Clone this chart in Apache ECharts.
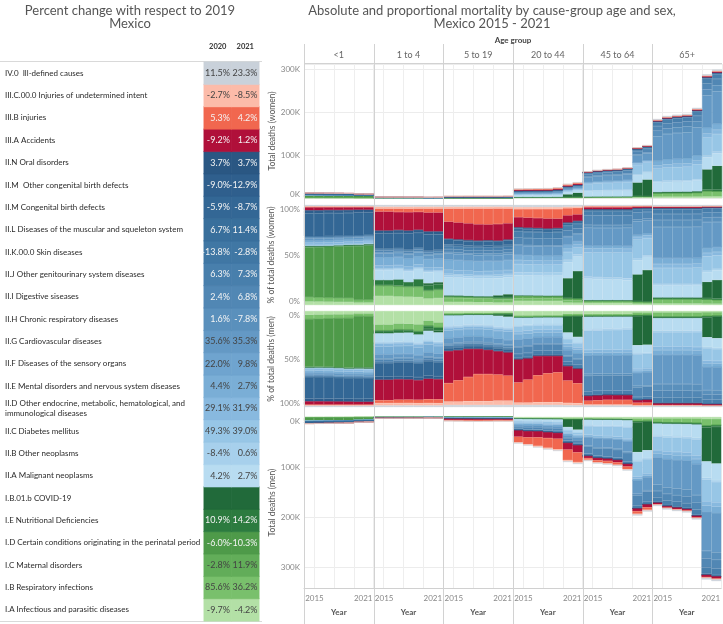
<!DOCTYPE html>
<html><head><meta charset="utf-8">
<script src="https://cdn.jsdelivr.net/npm/echarts@6/dist/echarts.min.js"></script>
<style>html,body{margin:0;padding:0;background:#fff}#c{width:723px;height:624px}</style>
</head><body><div id="c"></div>
<script>
// ---------------- DATA ----------------
const YEARS = ['2015','2016','2017','2018','2019','2020','2021'];
const AGE_GROUPS = ['<1','1 to 4','5 to 19','20 to 44','45 to 64','65+'];
// stack order (bottom of women stack / top of men stack first)
const CAUSES = [
 'I.A Infectious and parasitic diseases',
 'I.B Respiratory infections',
 'I.C Maternal disorders',
 'I.D Certain conditions originating in the perinatal period',
 'I.E Nutritional Deficiencies',
 'I.B.01.b COVID-19',
 'II.A Malignant neoplasms',
 'II.B Other neoplasms',
 'II.C Diabetes mellitus',
 'II.D Other endocrine, metabolic, hematological, and\nimmunological diseases',
 'II.E Mental disorders and nervous system diseases',
 'II.F Diseases of the sensory organs',
 'II.G Cardiovascular diseases',
 'II.H Chronic respiratory diseases',
 'II.I Digestive siseases',
 'II.J Other genitourinary system diseases',
 'II.K.00.0 Skin diseases',
 'II.L Diseases of the muscular and squeleton system',
 'II.M Congenital birth defects',
 'II.M  Other congenital birth defects',
 'II.N Oral disorders',
 'III.A Accidents',
 'III.B injuries',
 'III.C.00.0 Injuries of undetermined intent',
 'IV.0  Ill-defined causes'
];
const CHANGE_2020 = [-9.7, 85.6, -2.8, -6.0, 10.9, null, 4.2, -8.4, 49.3, 29.1, 4.4, 22.0, 35.6, 1.6, 2.4, 6.3, -13.8, 6.7, -5.9, -9.0, 3.7, -9.2, 5.3, -2.7, 11.5];
const CHANGE_2021 = [-4.2, 36.2, 11.9, -10.3, 14.2, null, 2.7, 0.6, 39.0, 31.9, 2.7, 9.8, 35.3, -7.8, 6.8, 7.3, -2.8, 11.4, -8.7, -12.9, 3.7, 1.2, 4.2, -8.5, 23.3];

// total deaths (thousands) per age group, 2015..2021
const womenTotals = [
 [12.0, 11.8, 11.5, 11.3, 11.0, 9.6, 9.3],
 [2.3, 2.2, 2.2, 2.1, 2.1, 1.7, 1.8],
 [4.2, 4.2, 4.3, 4.3, 4.3, 4.2, 4.5],
 [21.5, 22.0, 22.3, 22.6, 24.5, 32.5, 36.5],
 [62, 65, 67, 68, 71, 118, 123],
 [184, 191, 194, 196, 210, 288, 299]
];
const menTotals = [
 [13.5, 13.2, 12.9, 12.6, 12.2, 10.6, 10.0],
 [2.7, 2.6, 2.6, 2.5, 2.5, 2.0, 2.1],
 [8.0, 8.3, 8.8, 9.0, 8.8, 8.5, 8.6],
 [53, 57, 61, 65, 68, 90, 94],
 [88, 93, 95, 98, 107, 197, 189],
 [178, 185, 188, 191, 205, 325, 328]
];

// relative share of each cause (rows in CAUSES order), per year 2015..2021
const womenShare_lt1 = [
 [3.5,3.4,3.2,3.0,3.0,2.4,2.4],[4.5,4.3,4.2,4.0,4.0,2.8,3.0],[0,0,0,0,0,0,0],[50,50.5,51,51.5,52,54,54.5],[1.2,1.1,1.0,1.0,1.2,1.0,0.9],[0,0,0,0,0,0.5,0.6],
 [0.6,0.6,0.6,0.6,0.6,0.6,0.6],[0.4,0.4,0.4,0.4,0.4,0.4,0.4],[0.1,0.1,0.1,0.1,0.1,0.1,0.1],[2.0,2.0,2.0,2.0,1.9,1.9,1.9],[2.2,2.2,2.1,2.1,2.0,2.0,2.0],[0.1,0.1,0.1,0.1,0.1,0.1,0.1],
 [2.0,2.0,2.0,1.9,1.9,1.9,1.9],[0.4,0.4,0.4,0.4,0.4,0.4,0.4],[1.0,1.0,1.0,1.0,1.0,1.0,1.0],[0.6,0.6,0.6,0.6,0.6,0.6,0.6],[0.2,0.2,0.2,0.2,0.2,0.2,0.2],[0.2,0.2,0.2,0.2,0.2,0.2,0.2],
 [23,23,23,22.5,22.5,22.5,22],[3,3,3,3,3,3,3],[0.1,0.1,0.1,0.1,0.1,0.1,0.1],
 [3.0,3.0,2.8,2.8,2.7,2.5,2.5],[0.6,0.6,0.6,0.6,0.6,0.6,0.6],[0.4,0.4,0.4,0.4,0.4,0.4,0.4],[1.2,1.2,1.2,1.2,1.2,1.2,1.2]
];
const menShare_lt1 = [
 [4,3.8,3.6,3.5,3.4,2.6,2.6],[4.5,4.4,4.3,4.2,4.2,2.8,3.0],[0,0,0,0,0,0,0],[50,50,50.5,51,52,53.5,53],[1.1,1.0,1.0,1.0,1.0,0.9,0.9],[0,0,0,0,0,0.5,0.6],
 [0.6,0.6,0.6,0.6,0.6,0.6,0.6],[0.4,0.4,0.4,0.4,0.4,0.4,0.4],[0.1,0.1,0.1,0.1,0.1,0.1,0.1],[2,2,2,2,2,2,2],[2.2,2.2,2.2,2.2,2.2,2.2,2.2],[0.1,0.1,0.1,0.1,0.1,0.1,0.1],
 [2,2,2,2,2,2,2],[0.4,0.4,0.4,0.4,0.4,0.4,0.4],[1,1,1,1,1,1,1],[0.7,0.7,0.7,0.7,0.7,0.7,0.7],[0.2,0.2,0.2,0.2,0.2,0.2,0.2],[0.2,0.2,0.2,0.2,0.2,0.2,0.2],
 [22,22,22,21.5,21.5,21.5,21],[3,3,3,3,3,3,3],[0.1,0.1,0.1,0.1,0.1,0.1,0.1],
 [3.5,3.5,3.4,3.3,3.2,3.0,3.0],[0.6,0.6,0.6,0.6,0.6,0.6,0.6],[0.5,0.5,0.5,0.5,0.5,0.5,0.5],[1.3,1.3,1.3,1.3,1.3,1.3,1.3]
];
const womenShare_1to4 = [
 [9,9,8.5,8,8,6.5,7],[10,10,10,9.5,10,7.5,8],[0,0,0,0,0,0,0],[1,1,1,1,1,1,1],[5,5,6,4,7,5,5],[0,0,0,0,0,2,2],
 [10,10,10,10.5,10.5,11,10.5],[1,1,1,1,1,1,1],[0.5,0.5,0.5,0.5,0.5,0.5,0.5],[3,3,3,3,3,3,3],[8,8,8,8,8,8.5,8.5],[0.2,0.2,0.2,0.2,0.2,0.2,0.2],
 [4,4,4,4,4,4,4],[1,1,1,1,1,1,1],[2,2,2,2,2,2,2],[1,1,1,1,1,1,1],[0.3,0.3,0.3,0.3,0.3,0.3,0.3],[0.5,0.5,0.5,0.5,0.5,0.5,0.5],
 [15,15,15,15.5,15,16,15.5],[3,3,3,3,3,3,3],[0.2,0.2,0.2,0.2,0.2,0.2,0.2],
 [19,19,18,18,18,19,19],[3,3,3.5,3.5,3.5,4,4],[2,2,2,2,2,2,2],[1.5,1.5,1.5,1.5,1.5,1.5,1.5]
];
const menShare_1to4 = [
 [14,14,13,13,14,10,12],[6,6,6,6,7,5,5],[0,0,0,0,0,0,0],[0.5,0.5,0.5,0.5,0.5,0.5,0.5],[2.5,2.5,3,2.5,3,3,3],[0,0,0,0,0,2,2],
 [9,9,9,9,9,9.5,9.5],[1,1,1,1,1,1,1],[0.5,0.5,0.5,0.5,0.5,0.5,0.5],[3,3,3,3,3,3,3],[8,8,8,8,8,8,8],[0.2,0.2,0.2,0.2,0.2,0.2,0.2],
 [4,4,4,4,4,4,4],[1,1,1,1,1,1,1],[2,2,2,2,2,2,2],[1,1,1,1,1,1,1],[0.3,0.3,0.3,0.3,0.3,0.3,0.3],[0.5,0.5,0.5,0.5,0.5,0.5,0.5],
 [14,14,14,14,14,15,14.5],[3,3,3,3,3,3,3],[0.2,0.2,0.2,0.2,0.2,0.2,0.2],
 [21,21,21,20.5,20.5,21,21],[3,3,3.5,3.5,3.5,4,4],[2.5,2.5,2.5,2.5,2.5,2.5,2.5],[1.5,1.5,1.5,1.5,1.5,1.5,1.5]
];
const womenShare_5to19 = [
 [3,3,3,2.8,2.8,2.5,2.5],[4,4,3.8,3.6,3.5,3,3],[1.5,1.5,1.4,1.4,1.4,1.5,1.5],[0,0,0,0,0,0,0],[1,1,1,1,1,1,1],[0,0,0,0,0,2,3],
 [18,18,18,18,18,17.5,17],[2,2,2,2,2,2,2],[1.5,1.5,1.5,1.5,1.5,1.5,1.5],[4,4,4,4,4,4,4],[10,10,10,10,10,10,10],[0.2,0.2,0.2,0.2,0.2,0.2,0.2],
 [6,6,6,6,6,6,6],[1.5,1.5,1.5,1.5,1.5,1.5,1.5],[3,3,3,3,3,3,3],[3,3,3,3,3,3,3],[0.3,0.3,0.3,0.3,0.3,0.3,0.3],[1.5,1.5,1.5,1.5,1.5,1.5,1.5],
 [4.5,4.5,4.5,4.5,4.5,4.5,4.5],[1,1,1,1,1,1,1],[0.1,0.1,0.1,0.1,0.1,0.1,0.1],
 [17,17,17,16.5,16,17,16.5],[13,14,15,16,16,16,15],[2,2,2,2,2,2,2],[1.5,1.5,1.5,1.5,1.5,1.5,1.5]
];
const menShare_5to19 = [
 [2,2,1.8,1.8,1.8,1.6,1.6],[2,2,1.8,1.8,1.8,1.5,1.5],[0,0,0,0,0,0,0],[0,0,0,0,0,0,0],[0.5,0.5,0.5,0.5,0.5,0.5,0.5],[0,0,0,0,0,1.5,2.5],
 [11,10.5,10,10,10.5,11,11],[1,1,1,1,1,1,1],[1,1,1,1,1,1,1],[2.5,2.5,2.5,2.5,2.5,2.5,2.5],[8,8,7.5,7.5,8,8,8.5],[0.1,0.1,0.1,0.1,0.1,0.1,0.1],
 [5,5,5,5,5,5,5],[1,1,1,1,1,1,1],[1.5,1.5,1.5,1.5,1.5,1.5,1.5],[1.5,1.5,1.5,1.5,1.5,1.5,1.5],[0.2,0.2,0.2,0.2,0.2,0.2,0.2],[0.7,0.7,0.7,0.7,0.7,0.7,0.7],
 [2.5,2.5,2.5,2.5,2.5,2.5,2.5],[0.5,0.5,0.5,0.5,0.5,0.5,0.5],[0.1,0.1,0.1,0.1,0.1,0.1,0.1],
 [33,31,29,26,25,24,24],[19,22,25,28,28,27,26],[3.5,3.5,4,4,4,4.5,4.5],[2,2,2,2,2,2,2]
];
const womenShare_20to44 = [
 [4,4,4,4,4,3,3],[2.5,2.5,2.5,2.5,2.5,3,3],[2.5,2.5,2.4,2.3,2.3,2.5,3],[0,0,0,0,0,0,0],[0.5,0.5,0.5,0.5,0.5,0.5,0.5],[0,0,0,0,0,25,38],
 [20,20,20,20,20,20,20],[3,3,3,3,3,3,3],[8,8,8,8,8,10,9.5],[4,4,4,4,4,4,4],[5,5,5,5,5,5,5],[0.1,0.1,0.1,0.1,0.1,0.1,0.1],
 [9,9,9,9,9,10,10],[1,1,1,1,1,1,1],[7,7,7,7,7,7,7],[6,6,6,6,6,6,6],[0.5,0.5,0.5,0.5,0.5,0.5,0.5],[2.5,2.5,2.5,2.5,2.5,2.5,2.5],
 [1,1,1,1,1,1,1],[0.3,0.3,0.3,0.3,0.3,0.3,0.3],[0.1,0.1,0.1,0.1,0.1,0.1,0.1],
 [10,10,10,10,9.5,9,9],[8,8.5,9,9.5,9.5,9,9],[2,2,2,2,2,2,2],[2,2,2,2,2,2,2]
];
const menShare_20to44 = [
 [4.5,4.5,4.3,4.2,4.2,3.5,3.5],[2,2,2,2,2,3,3],[0,0,0,0,0,0,0],[0,0,0,0,0,0,0],[0.5,0.5,0.5,0.5,0.5,0.5,0.5],[0,0,0,0,0,20,27],
 [8,7.5,7,7,7,7,7],[1,1,1,1,1,1,1],[5,5,4.5,4.5,4.5,6,5.5],[3,3,3,3,3,3,3],[6,5.5,5,5,5,5,5],[0,0,0,0,0,0,0],
 [7,7,6.5,6.5,6.5,7,7],[0.7,0.7,0.7,0.7,0.7,0.7,0.7],[7,7,6.5,6.5,6.5,6.5,6.5],[4,4,4,4,4,4,4],[0.3,0.3,0.3,0.3,0.3,0.3,0.3],[0.8,0.8,0.8,0.8,0.8,0.8,0.8],
 [0.5,0.5,0.5,0.5,0.5,0.5,0.5],[0.2,0.2,0.2,0.2,0.2,0.2,0.2],[0.05,0.05,0.05,0.05,0.05,0.05,0.05],
 [24,22,20,18,17,18,19],[21,24,28,30,31,28,26],[2.5,2.5,3,3,3,3,3],[2,2,2,2,2,2,2]
];
const womenShare_45to64 = [
 [2,2,2,2,2,1.6,1.6],[2,2,2,2,2,3,2.8],[0.1,0.1,0.1,0.1,0.1,0.1,0.1],[0,0,0,0,0,0,0],[0.8,0.8,0.8,0.8,0.8,0.8,0.8],[0,0,0,0,0,38,47],
 [22,21.5,21,21,20.5,20,19.5],[2,2,2,2,2,2,2],[25,25,25.5,25.5,26,27,26],[4,4,4,4,4,4,4],[3,3,3,3,3,3,3],[0,0,0,0,0,0,0],
 [18,18,18,18,18.5,19,19],[3,3,3,3,3,3,3],[10,10,10,10,10,10,10],[4,4,4,4,4,4,4],[0.3,0.3,0.3,0.3,0.3,0.3,0.3],[1.5,1.5,1.5,1.5,1.5,1.5,1.5],
 [0.2,0.2,0.2,0.2,0.2,0.2,0.2],[0.1,0.1,0.1,0.1,0.1,0.1,0.1],[0,0,0,0,0,0,0],
 [2,2,2,2,2,2,2],[1,1,1,1,1,1,1],[0.3,0.3,0.3,0.3,0.3,0.3,0.3],[1,1,1,1,1,1,1]
];
const menShare_45to64 = [
 [3,3,3,3,3,2.2,2.3],[2,2,2,2,2,4.5,4],[0,0,0,0,0,0,0],[0,0,0,0,0,0,0],[1,1,1,1,1,1,1],[0,0,0,0,0,45,44],
 [13,13,12.5,12.5,12,12,12],[1.5,1.5,1.5,1.5,1.5,1.5,1.5],[20,20,20.5,21,21,23,22],[3,3,3,3,3,3,3],[3,3,3,3,3,3,3],[0,0,0,0,0,0,0],
 [19,19,19,19,19.5,20,20],[2,2,2,2,2,2,2],[16,16,16,16,16,15,15],[4,4,4,4,4,4,4],[0.3,0.3,0.3,0.3,0.3,0.3,0.3],[0.5,0.5,0.5,0.5,0.5,0.5,0.5],
 [0.1,0.1,0.1,0.1,0.1,0.1,0.1],[0,0,0,0,0,0,0],[0,0,0,0,0,0,0],
 [5,5,5,5,5,4,4.5],[4,4.5,5,5,5,4,4],[1,1,1,1,1,1,1],[1.5,1.5,1.5,1.5,1.5,1.5,1.5]
];
const womenShare_65plus = [
 [1.5,1.5,1.5,1.5,1.5,1.5,1.5],[4.5,4.5,4.5,4.5,4.5,5.5,5],[0,0,0,0,0,0,0],[0,0,0,0,0,0,0],[1.5,1.5,1.5,1.5,1.5,1.5,1.5],[0,0,0,0,0,20,23],
 [12,12,12,12,12,12,12],[1.5,1.5,1.5,1.5,1.5,1.5,1.5],[16,16,16,16,16.5,18,17],[4,4,4,4,4,4,4],[6,6,6,6,6,6,6],[0,0,0,0,0,0,0],
 [31,31,31,31,31,32,31],[7,7,7,7,7,6,6],[6,6,6,6,6,6,6],[4.5,4.5,4.5,4.5,4.5,4.5,4.5],[0.5,0.5,0.5,0.5,0.5,0.5,0.5],[1,1,1,1,1,1,1],
 [0,0,0,0,0,0,0],[0,0,0,0,0,0,0],[0,0,0,0,0,0,0],
 [1.2,1.2,1.2,1.2,1.2,1.2,1.2],[0.2,0.2,0.2,0.2,0.2,0.2,0.2],[0.3,0.3,0.3,0.3,0.3,0.3,0.3],[1.3,1.3,1.3,1.3,1.3,1.3,1.3]
];
const menShare_65plus = [
 [1.5,1.5,1.5,1.5,1.5,1.5,1.5],[4.5,4.5,4.5,4.5,4.5,5.5,5],[0,0,0,0,0,0,0],[0,0,0,0,0,0,0],[1.3,1.3,1.3,1.3,1.3,1.3,1.3],[0,0,0,0,0,27,29],
 [13,13,13,13,13,13,13],[1.5,1.5,1.5,1.5,1.5,1.5,1.5],[15,15,15,15,15.5,17,16],[3.5,3.5,3.5,3.5,3.5,3.5,3.5],[5,5,5,5,5,5,5],[0,0,0,0,0,0,0],
 [30,30,30,30,30,31,31],[7,7,7,7,7,6,6],[7,7,7,7,7,7,7],[5,5,5,5,5,5,5],[0.4,0.4,0.4,0.4,0.4,0.4,0.4],[0.6,0.6,0.6,0.6,0.6,0.6,0.6],
 [0,0,0,0,0,0,0],[0,0,0,0,0,0,0],[0,0,0,0,0,0,0],
 [1.8,1.8,1.8,1.8,1.8,1.8,1.8],[0.4,0.4,0.4,0.4,0.4,0.4,0.4],[0.3,0.3,0.3,0.3,0.3,0.3,0.3],[1.2,1.2,1.2,1.2,1.2,1.2,1.2]
];
const womenShares = [womenShare_lt1, womenShare_1to4, womenShare_5to19, womenShare_20to44, womenShare_45to64, womenShare_65plus];
const menShares = [menShare_lt1, menShare_1to4, menShare_5to19, menShare_20to44, menShare_45to64, menShare_65plus];

// ---------------- STYLE ----------------
const COLORS = ['#b3e0a6','#79c06c','#62ad59','#4e9a49','#2c7b3f','#216a3a',
 '#b8dcf1','#a7d0ec','#97c6e6','#88b9df','#7aaed6','#6fa4cf','#6499c5','#5a90bc','#5187b4','#487fac','#4077a4','#396f9c','#336795','#2f5f8d','#2a5783',
 '#b0103a','#f1674f','#fcbba9','#c9d1da'];
const LIGHT_TEXT = [3,4,13,14,15,16,17,18,19,20,21,22];
const FONT = "Lato,'Open Sans',sans-serif";

const L = 304, R = 722, FW = (R - L) / 6;
const PANELS = [
 {top: 64, height: 134, sex: 'w', mode: 'abs', max: 312, inverse: false, name: 'Total deaths (women)'},
 {top: 205, height: 100, sex: 'w', mode: 'pct', max: 100, inverse: false, name: '% of total deaths (women)'},
 {top: 311, height: 96, sex: 'm', mode: 'pct', max: 100, inverse: true, name: '% of total deaths (men)'},
 {top: 417, height: 171, sex: 'm', mode: 'abs', max: 342, inverse: true, name: 'Total deaths (men)'}
];

const grids = [], xAxes = [], yAxes = [], series = [];
PANELS.forEach((P, p) => {
  for (let f = 0; f < 6; f++) {
    const idx = grids.length;
    grids.push({left: L + f * FW, width: FW, top: P.top, height: P.height});
    const isBottom = p === 3;
    xAxes.push({
      gridIndex: idx, type: 'category', data: YEARS, boundaryGap: true,
      position: 'bottom',
      axisLine: {show: isBottom, onZero: false, lineStyle: {color: '#d0d0d0'}},
      axisTick: {show: false},
      axisLabel: isBottom ? {
        show: true, interval: 0, margin: 6, color: '#888', fontSize: 8, fontFamily: FONT,
        formatter: (v, i) => i === 0 ? '{l|' + v + '}' : (i === YEARS.length - 1 ? '{r|' + v + '}' : ''),
        rich: {l: {padding: [0, 0, 0, 11], fontSize: 8, color: '#888', fontFamily: FONT},
               r: {padding: [0, 11, 0, 0], fontSize: 8, color: '#888', fontFamily: FONT}}
      } : {show: false},
      splitLine: {show: true, interval: (i) => i === 1 || i === 3 || i === 5, lineStyle: {color: '#eeeeee', width: 1}},
      name: isBottom ? 'Year' : '', nameLocation: 'middle', nameGap: 20,
      nameTextStyle: {fontSize: 8, fontWeight: 'bold', color: '#555', fontFamily: FONT}
    });
    const pct = P.mode === 'pct';
    yAxes.push({
      gridIndex: idx, type: 'value', min: 0, max: P.max, interval: pct ? 50 : 100, inverse: P.inverse,
      axisLine: {show: false}, axisTick: {show: false},
      axisLabel: {show: f === 0, margin: 4, color: '#888', fontSize: 8, fontFamily: FONT,
        showMaxLabel: pct, formatter: v => pct ? v + '%' : v + 'K',
        verticalAlignMinLabel: P.inverse ? 'top' : 'bottom',
        verticalAlignMaxLabel: P.inverse ? 'bottom' : 'top'},
      splitLine: {show: !pct, lineStyle: {color: '#ececec'}},
      name: f === 0 ? P.name : '', nameLocation: 'middle', nameGap: 27, nameRotate: 90,
      nameTextStyle: {fontSize: 8.5, color: '#555', fontFamily: FONT}
    });
    const shares = P.sex === 'w' ? womenShares[f] : menShares[f];
    const totals = P.sex === 'w' ? womenTotals[f] : menTotals[f];
    const sums = YEARS.map((_, y) => shares.reduce((s, row) => s + row[y], 0));
    shares.forEach((row, c) => {
      series.push({
        type: 'bar', xAxisIndex: idx, yAxisIndex: idx, stack: 's' + idx,
        barCategoryGap: '0%', barGap: '0%', silent: true,
        itemStyle: {color: COLORS[c], borderColor: COLORS[c], borderWidth: 0.4},
        data: row.map((v, y) => pct ? v / sums[y] * 100 : v / sums[y] * totals[y])
      });
    });
  }
});

// ---- left table (heatmap) ----
const tIdx = grids.length;
grids.push({left: 204, top: 62, width: 55, height: 559});
xAxes.push({gridIndex: tIdx, type: 'category', data: ['2020', '2021'], position: 'top',
  axisLine: {show: false}, axisTick: {show: false}, splitLine: {show: false},
  axisLabel: {margin: 11, fontSize: 7.5, color: '#333', fontWeight: 'bold', fontFamily: FONT}});
yAxes.push({gridIndex: tIdx, type: 'category', data: CAUSES,
  axisLine: {show: false}, axisTick: {show: false}, splitLine: {show: false},
  axisLabel: {align: 'left', margin: 199, fontSize: 8, lineHeight: 10, color: '#2a2a2a', fontFamily: FONT, interval: 0}});
const cells = [];
CAUSES.forEach((c, i) => {
  [CHANGE_2020[i], CHANGE_2021[i]].forEach((v, x) => {
    const light = LIGHT_TEXT.indexOf(i) >= 0;
    cells.push({value: [x, i, v === null ? 0 : v], itemStyle: {color: COLORS[i], borderColor: COLORS[i], borderWidth: 0.4},
      label: {show: v !== null, color: light ? '#f4f4f4' : '#444'}});
  });
});
series.push({type: 'heatmap', xAxisIndex: tIdx, yAxisIndex: tIdx, data: cells, silent: true,
  label: {show: true, position: 'insideRight', distance: 2, fontSize: 9, fontFamily: FONT,
    formatter: p => p.value[2].toFixed(1) + '%'}});

// ---- decorations ----
const graphic = [];
for (let k = 0; k < 6; k++) {
  graphic.push({type: 'line', shape: {x1: Math.round(L + k * FW) + 0.5, y1: 44, x2: Math.round(L + k * FW) + 0.5, y2: 624},
    style: {stroke: '#d2d2d2', lineWidth: 1}, z: 100});
  graphic.push({type: 'text', x: L + (k + 0.5) * FW, y: 55,
    style: {text: AGE_GROUPS[k], textAlign: 'center', textVerticalAlign: 'middle', fontSize: 9, fill: '#666', fontFamily: FONT}});
}
graphic.push({type: 'line', shape: {x1: L, y1: 63.5, x2: R, y2: 63.5}, style: {stroke: '#d2d2d2', lineWidth: 1}});
graphic.push({type: 'text', x: (L + R) / 2, y: 40,
  style: {text: 'Age group', textAlign: 'center', textVerticalAlign: 'middle', fontSize: 8, fontWeight: 'bold', fill: '#444', fontFamily: FONT}});
graphic.push({type: 'line', shape: {x1: 0, y1: 61.5, x2: 262, y2: 61.5}, style: {stroke: '#d9d9d9', lineWidth: 1}});
graphic.push({type: 'line', shape: {x1: 0, y1: 621.5, x2: 262, y2: 621.5}, style: {stroke: '#d9d9d9', lineWidth: 1}});

const chart = echarts.init(document.getElementById('c'), null, {renderer: 'canvas'});
chart.setOption({
  animation: false,
  backgroundColor: '#ffffff',
  title: [
    {text: 'Percent change with respect to 2019\nMexico', left: 130, top: 4, padding: 0, textAlign: 'center',
     textStyle: {fontSize: 13, fontWeight: 'normal', color: '#555', lineHeight: 13.5, fontFamily: FONT}},
    {text: 'Absolute and proportional mortality by cause-group age and sex,\nMexico 2015 - 2021', left: 492, top: 4, padding: 0, textAlign: 'center',
     textStyle: {fontSize: 13, fontWeight: 'normal', color: '#555', lineHeight: 13.5, fontFamily: FONT}}
  ],
  grid: grids, xAxis: xAxes, yAxis: yAxes, series: series, graphic: graphic
});
</script></body></html>
